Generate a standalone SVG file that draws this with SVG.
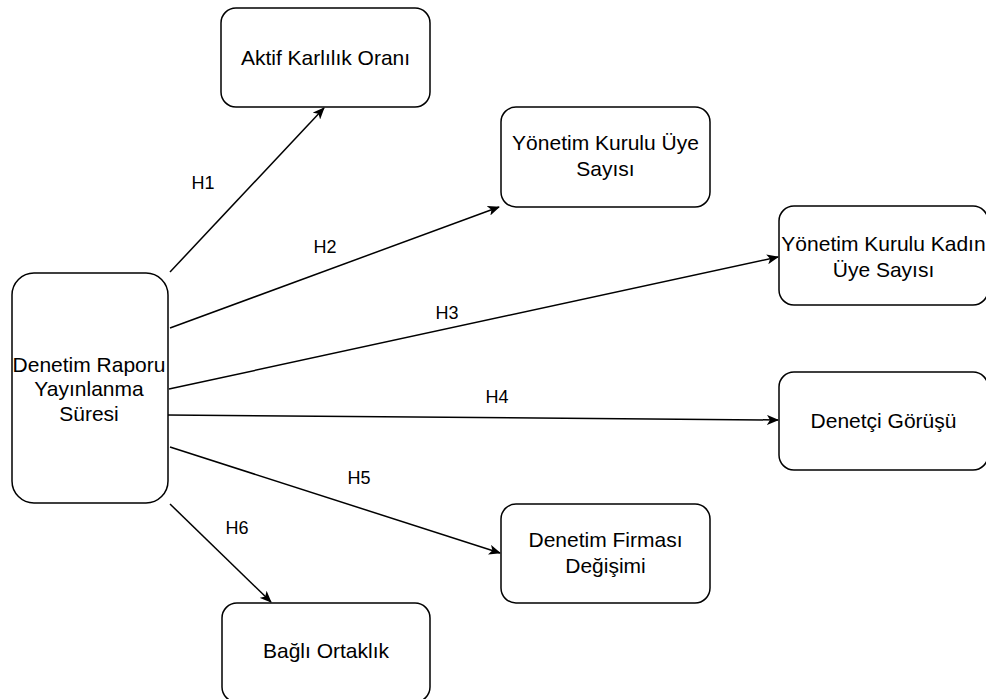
<svg xmlns="http://www.w3.org/2000/svg" width="986" height="699" viewBox="0 0 986 699">
<defs>
<style>
.box{fill:#fff;stroke:#000;stroke-width:1.5}
.t{font-family:"Liberation Sans",Arial,Helvetica,sans-serif;font-size:21px;fill:#000;text-anchor:middle}
.lbl{font-family:"Liberation Sans",Arial,Helvetica,sans-serif;font-size:18px;fill:#000;text-anchor:middle}
.e{fill:none;stroke:#000;stroke-width:1.5;marker-end:url(#arr)}
</style>
<marker id="arr" viewBox="0 0 12 10" refX="11" refY="5" markerWidth="12" markerHeight="10" markerUnits="userSpaceOnUse" orient="auto">
<path d="M0,0 L12,5 L0,10 L3,5 Z" fill="#000"/>
</marker>
</defs>
<rect width="986" height="699" fill="#fff"/>
<g id="connectors">
<line class="e" x1="170" y1="272" x2="324" y2="108"/>
<line class="e" x1="170" y1="328" x2="499" y2="207"/>
<line class="e" x1="169" y1="389" x2="778" y2="257"/>
<line class="e" x1="167" y1="415" x2="778" y2="420"/>
<line class="e" x1="170" y1="447" x2="500" y2="553"/>
<line class="e" x1="170" y1="504" x2="271" y2="602"/>
<text class="lbl" x="203" y="189">H1</text>
<text class="lbl" x="325" y="253">H2</text>
<text class="lbl" x="447" y="319">H3</text>
<text class="lbl" x="497" y="403">H4</text>
<text class="lbl" x="359" y="484">H5</text>
<text class="lbl" x="237" y="534">H6</text>
</g>
<g id="n-source">
<rect class="box" x="12" y="273" width="156" height="230" rx="22" ry="22"/>
<text class="t" x="89" y="372">Denetim Raporu</text>
<text class="t" x="89" y="396">Yayınlanma</text>
<text class="t" x="89" y="421">Süresi</text>
</g>
<g id="n-aktif">
<rect class="box" x="221" y="8" width="209" height="99" rx="15" ry="15"/>
<text class="t" x="325.5" y="65">Aktif Karlılık Oranı</text>
</g>
<g id="n-yku">
<rect class="box" x="501" y="107" width="209" height="100" rx="15" ry="15"/>
<text class="t" x="605.5" y="150">Yönetim Kurulu Üye</text>
<text class="t" x="605.5" y="176">Sayısı</text>
</g>
<g id="n-ykk">
<rect class="box" x="779" y="206" width="209" height="99" rx="15" ry="15"/>
<text class="t" x="883.5" y="251">Yönetim Kurulu Kadın</text>
<text class="t" x="883.5" y="277">Üye Sayısı</text>
</g>
<g id="n-denetci">
<rect class="box" x="779" y="372" width="209" height="98" rx="15" ry="15"/>
<text class="t" x="883.5" y="428">Denetçi Görüşü</text>
</g>
<g id="n-firma">
<rect class="box" x="501" y="504" width="209" height="99" rx="15" ry="15"/>
<text class="t" x="605.5" y="547">Denetim Firması</text>
<text class="t" x="605.5" y="573">Değişimi</text>
</g>
<g id="n-bagli">
<rect class="box" x="222" y="603" width="208" height="99" rx="15" ry="15"/>
<text class="t" x="326" y="658">Bağlı Ortaklık</text>
</g>
</svg>
